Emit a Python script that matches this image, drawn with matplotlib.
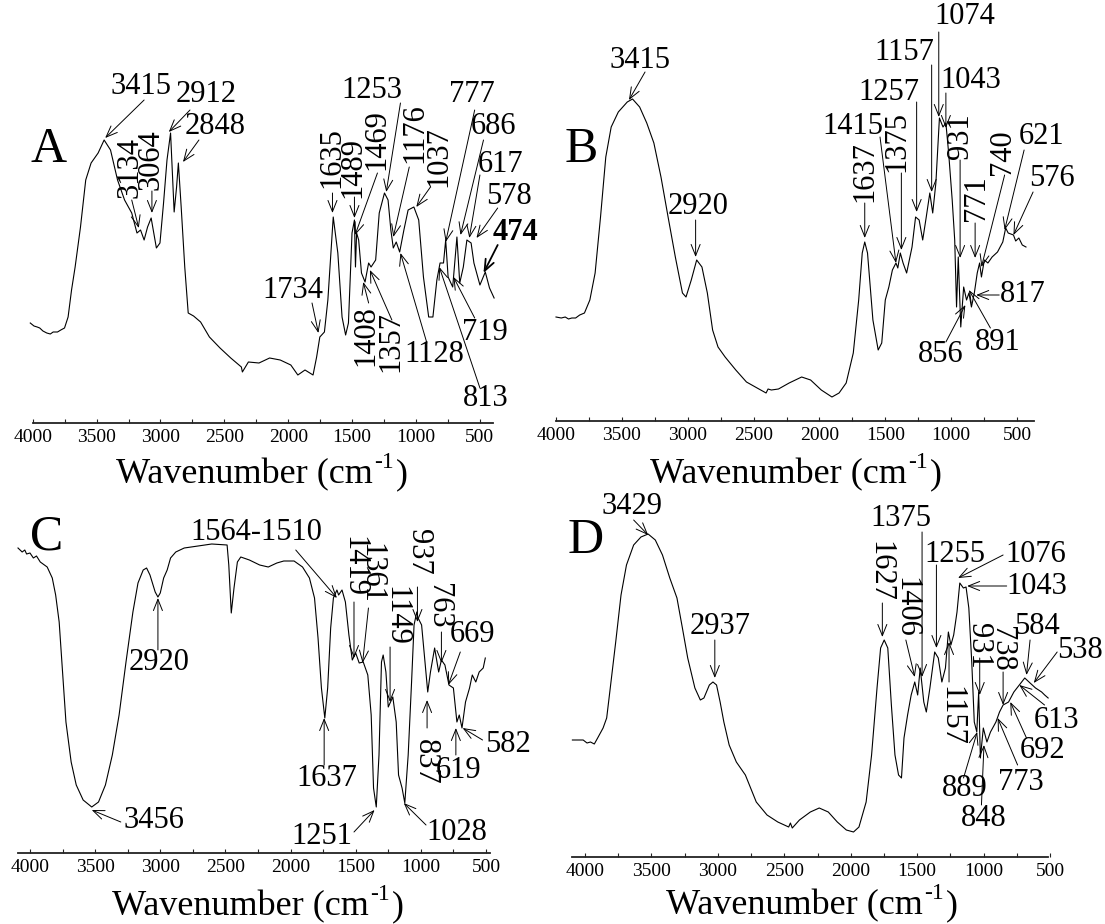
import matplotlib
matplotlib.use('Agg')
import matplotlib.pyplot as plt
from matplotlib.ticker import MultipleLocator, FixedLocator
from matplotlib.transforms import IdentityTransform

plt.rcParams['font.family'] = ['Liberation Serif', 'DejaVu Serif']

# ---------------- data: spectra (wavenumber, relative transmittance) ----------------
wn_A = [4019, 3990, 3965, 3945, 3920, 3890, 3862, 3840, 3806, 3780, 3751, 3723, 3696, 3668, 3626, 3585,
        3543, 3488, 3441, 3391, 3336, 3281, 3225, 3184, 3156, 3128, 3101, 3073, 3032, 3004, 2976, 2949,
        2921, 2893, 2874, 2860, 2838, 2810, 2783, 2741, 2686, 2617, 2534, 2450, 2367, 2359, 2312, 2229,
        2146, 2063, 1980, 1925, 1869, 1806, 1778, 1753, 1717, 1690, 1648, 1612, 1579, 1551, 1529, 1501,
        1482, 1474, 1465, 1449, 1427, 1399, 1371, 1352, 1316, 1288, 1247, 1219, 1197, 1178, 1155, 1128,
        1095, 1062, 1017, 979, 942, 901, 868, 837, 812, 785, 768, 749, 713, 680, 658, 630, 602, 569, 547,
        500, 458, 425, 389]
t_A = [100, 97, 96, 95, 92, 90, 89, 91, 91, 93, 95, 106, 133, 156, 196, 243,
       260, 270, 283, 273, 243, 223, 210, 190, 193, 183, 196, 205, 175, 180, 220, 263,
       290, 211, 236, 260, 216, 156, 110, 107, 101, 86, 75, 65, 56, 51, 61, 60,
       65, 63, 58, 48, 53, 48, 66, 86, 91, 123, 206, 170, 106, 88, 100, 190,
       203, 156, 190, 183, 150, 141, 160, 156, 163, 210, 230, 223, 193, 175, 181, 171,
       193, 213, 216, 203, 146, 106, 106, 143, 160, 160, 183, 146, 136, 186, 140, 156, 183, 180, 160,
       138, 151, 135, 125]

wn_B = [4000, 3960, 3930, 3905, 3880, 3851, 3820, 3784, 3743, 3703, 3662, 3622, 3581, 3527, 3459, 3419,
        3365, 3311, 3257, 3203, 3149, 3094, 3040, 3013, 2973, 2932, 2892, 2851, 2811, 2770, 2716, 2635,
        2554, 2473, 2405, 2390, 2365, 2311, 2230, 2135, 2067, 1986, 1905, 1851, 1797, 1743, 1702, 1675,
        1656, 1635, 1594, 1554, 1527, 1500, 1473, 1446, 1419, 1405, 1386, 1365, 1338, 1297, 1270, 1243,
        1216, 1189, 1162, 1140, 1116, 1089, 1062, 1040, 1019, 992, 973, 959, 946, 927, 905, 883, 865,
        846, 824, 802, 784, 770, 748, 721, 689, 648, 608, 586, 567, 527, 510, 486, 460, 432]
t_B = [104, 103, 104, 102, 103, 103, 106, 108, 121, 148, 204, 264, 294, 309, 319, 322,
       314, 298, 278, 244, 204, 164, 128, 124, 141, 161, 154, 128, 91, 74, 64, 51,
       39, 33, 28, 32, 31, 32, 38, 44, 41, 31, 24, 28, 38, 68, 121, 168,
       179, 168, 101, 71, 78, 121, 134, 151, 158, 153, 168, 158, 148, 174, 204, 201,
       181, 204, 228, 208, 238, 303, 294, 298, 268, 221, 181, 114, 164, 94, 134, 121, 128,
       114, 128, 148, 158, 144, 161, 158, 164, 169, 179, 193, 188, 186, 180, 183, 176, 174]

wn_C = [4092, 4060, 4040, 4026, 4000, 3974, 3950, 3921, 3868, 3829, 3803, 3776, 3750, 3724, 3684, 3645,
        3592, 3526, 3474, 3421, 3368, 3316, 3263, 3210, 3171, 3131, 3105, 3079, 3039, 3018, 3000, 2974,
        2947, 2921, 2881, 2816, 2710, 2605, 2487, 2474, 2455, 2434, 2408, 2382, 2316, 2237, 2171, 2105,
        2052, 1973, 1908, 1855, 1816, 1789, 1763, 1737, 1715, 1692, 1671, 1644, 1631, 1605, 1579, 1552,
        1526, 1500, 1473, 1442, 1407, 1381, 1363, 1342, 1321, 1302, 1289, 1268, 1250, 1215, 1189, 1171,
        1144, 1123, 1097, 1071, 1052, 1031, 1021, 994, 968, 947, 926, 894, 863, 842, 815, 784, 750, 723,
        705, 684, 657, 626, 605, 578, 552, 521, 505]
t_C = [305, 301, 303, 299, 300, 295, 297, 291, 286, 275, 258, 231, 181, 131, 91, 68,
       53, 46, 51, 68, 98, 138, 191, 241, 270, 283, 285, 278, 261, 256, 260, 275,
       283, 295, 301, 305, 307, 309, 308, 288, 240, 265, 291, 296, 293, 288, 286, 290,
       292, 292, 286, 275, 255, 215, 165, 135, 165, 225, 255, 263, 258, 263, 251, 218,
       193, 200, 190, 191, 178, 138, 65, 46, 98, 191, 198, 181, 146, 156, 131, 78,
       65, 50, 98, 171, 228, 241, 235, 228, 191, 161, 181, 205, 181, 193, 188, 168, 165, 131,
       138, 125, 151, 165, 178, 171, 181, 185, 195]

wn_D = [4095, 4050, 4014, 3985, 3959, 3930, 3905, 3864, 3837, 3810, 3769, 3729, 3688, 3634, 3579, 3525,
        3471, 3417, 3362, 3308, 3267, 3227, 3173, 3132, 3105, 3064, 3037, 3010, 2983, 2955, 2915, 2861,
        2793, 2711, 2630, 2549, 2467, 2454, 2440, 2386, 2304, 2237, 2169, 2101, 2033, 1979, 1938, 1884,
        1843, 1802, 1775, 1748, 1721, 1694, 1667, 1640, 1618, 1599, 1572, 1545, 1518, 1496, 1477, 1450,
        1431, 1404, 1368, 1341, 1314, 1287, 1265, 1246, 1225, 1200, 1179, 1152, 1132, 1111, 1089, 1070,
        1051, 1037, 1024, 1002, 975, 948, 907, 880, 853, 812, 772, 731, 690, 650, 609, 563, 540, 514]
t_D = [117, 117, 117, 114, 115, 113, 119, 129, 139, 169, 215, 262, 292, 312, 320, 323,
       317, 302, 279, 259, 229, 199, 169, 157, 159, 172, 175, 172, 155, 135, 112, 95,
       82, 55, 42, 35, 30, 34, 29, 37, 45, 49, 45, 35, 27, 25, 30, 55,
       102, 169, 209, 217, 209, 152, 102, 82, 79, 119, 142, 162, 175, 162, 189, 155,
       145, 169, 205, 199, 175, 189, 225, 212, 222, 245, 274, 269, 270, 249, 195, 135,
       125, 165, 99, 129, 115, 125, 135, 145, 152, 155, 165, 172, 179, 174, 169, 165, 162, 159]

# ---------------- peak labels ----------------
lab_A = ['3415', '3134', '3064', '2912', '2848', '1734', '1635', '1489', '1469', '1253', '1176', '1037',
         '777', '686', '617', '578', '474', '1408', '1357', '1128', '719', '813']
lab_B = ['3415', '2920', '1637', '1415', '1375', '1257', '1157', '1074', '1043', '931', '771', '740',
         '621', '576', '817', '891', '856']
lab_C = ['2920', '1564-1510', '1419', '1361', '1149', '937', '763', '669', '837', '619', '582', '1637',
         '3456', '1251', '1028']
lab_D = ['3429', '2937', '1627', '1406', '1375', '1255', '1076', '1043', '1157', '931', '738', '584',
         '538', '613', '692', '773', '889', '848']
panel_names = ['A', 'B', 'C', 'D']
tick_values = [4000, 3500, 3000, 2500, 2000, 1500, 1000, 500]
xlabel_parts = ['Wavenumber (cm', '-1', ')']

# ---------------- layout (label placement, arrows) ----------------
txt_A = [(3156, 336, 0), (3239, 256, 90), (3073, 263, 90), (2639, 329, 0), (2569, 296, 0), (1966, 132, 0),
         (1662, 265, 90), (1496, 256, 90), (1310, 283, 90), (1344, 332, 0), (1006, 290, 90), (823, 266, 90),
         (563, 328, 0), (397, 296, 0), (342, 258, 0), (273, 227, 0), (223, 191, 0), (1394, 87, 90),
         (1200, 81, 90), (859, 69, 0), (458, 91, 0), (458, 24, 0)]
arr_A = [((3128, 323), (3433, 285)), ((3225, 223), (3170, 195)), ((3067, 232), (3067, 210)),
         ((2769, 313), (2935, 291)), ((2699, 283), (2824, 261)), ((1814, 120), (1764, 90)),
         ((1654, 230), (1654, 210)), ((1482, 226), (1482, 205)), ((1302, 250), (1477, 188)),
         ((1122, 320), (1233, 231)), ((1053, 256), (1178, 186)), ((887, 236), (998, 216)),
         ((541, 313), (768, 181)), ((472, 283), (652, 188)), ((500, 248), (583, 185)),
         ((361, 215), (527, 185)), ((361, 178), (472, 150)), ((1371, 120), (1413, 141)),
         ((1189, 103), (1361, 153)), ((915, 80), (1122, 170)), ((541, 105), (707, 146)),
         ((500, 35), (818, 156))]

txt_B = [(3365, 360, 0), (2919, 214, 0), (1657, 249, 90), (1743, 295, 0), (1413, 279, 90), (1473, 329, 0),
         (1359, 369, 0), (900, 404, 0), (851, 340, 0), (932, 285, 90), (805, 223, 90), (608, 269, 90),
         (310, 284, 0), (237, 242, 0), (459, 126, 0), (643, 79, 0), (1076, 66, 0)]
arr_B = [((3324, 349), (3446, 321)), ((2940, 201), (2940, 164)), ((1656, 218), (1656, 183)),
         ((1540, 284), (1419, 158)), ((1378, 248), (1378, 171)), ((1262, 319), (1262, 209)),
         ((1148, 356), (1148, 229)), ((1094, 389), (1094, 304)), ((1040, 328), (1040, 293)),
         ((932, 261), (932, 163)), ((818, 198), (818, 163)), ((594, 246), (770, 154)),
         ((446, 271), (594, 191)), ((378, 229), (527, 186)), ((635, 126), (810, 126)),
         ((702, 93), (865, 131)), ((1040, 79), (892, 116))]

txt_C = [(3013, 191, 0), (2263, 321, 0), (1513, 286, -90), (1381, 280, -90), (1192, 237, -90),
         (1021, 301, -90), (868, 247, -90), (605, 219, 0), (968, 91, -90), (710, 83, 0), (328, 108, 0),
         (1723, 74, 0), (3052, 32, 0), (1763, 16, 0), (723, 21, 0)]
arr_C = [((3018, 203), (3018, 255)), ((1960, 303), (1644, 255)), ((1513, 251), (1513, 195)),
         ((1402, 245), (1447, 190)), ((1236, 206), (1236, 151)), ((1026, 266), (1026, 231)),
         ((842, 221), (842, 190)), ((697, 201), (789, 168)), ((952, 125), (952, 153)),
         ((731, 98), (731, 125)), ((526, 113), (679, 125)), ((1742, 88), (1742, 135)),
         ((3303, 31), (3526, 43)), ((1513, 21), (1355, 43)), ((960, 28), (1131, 50))]

txt_D = [(3647, 350, 0), (2983, 231, 0), (1783, 286, -90), (1585, 250, -90), (1626, 339, 0),
         (1219, 303, 0), (609, 303, 0), (603, 271, 0), (1246, 141, -90), (1037, 211, -90),
         (867, 208, -90), (595, 231, 0), (277, 206, 0), (454, 136, 0), (554, 106, 0), (717, 75, 0),
         (1142, 69, 0), (1002, 39, 0)]
arr_D = [((3634, 337), (3525, 322)), ((3023, 217), (3023, 179)), ((1762, 254), (1762, 220)),
         ((1585, 217), (1518, 180)), ((1463, 325), (1463, 180)), ((1355, 292), (1355, 209)),
         ((853, 302), (1192, 279)), ((826, 271), (1124, 271)), ((1260, 175), (1260, 215)),
         ((1029, 199), (1029, 162)), ((853, 185), (853, 152)), ((650, 217), (677, 182)),
         ((446, 205), (622, 174)), ((541, 152), (731, 172)), ((677, 119), (799, 155)),
         ((744, 92), (894, 139)), ((1151, 79), (1048, 125)), ((1016, 52), (997, 112))]

letter_pos = [(3872, 273), (3805, 271), (3876, 316), (3995, 316)]

W, H = 1105, 924
geom = [
    (32.7, 492.7, 423, (4000, 400), (400, 4000)),
    (556, 1034, 421, (4000, 371), (371, 4000)),
    (18, 490, 853, (4092, 469), (469, 4092)),
    (572, 1050, 857, (4098, 500), (515, 4098)),
]
xlabel_pos = [(262, 483), (796, 483), (258, 915), (812, 914)]

fig = plt.figure(figsize=(W / 100, H / 100), dpi=100)
renderer = fig.canvas.get_renderer()


def draw_xlabel(cx, baseline_from_top):
    y = H - baseline_from_top
    idt = IdentityTransform()
    t1 = fig.text(0, y, xlabel_parts[0], fontsize=26, va='baseline', ha='left', transform=idt)
    t2 = fig.text(0, y + 15, xlabel_parts[1], fontsize=17, va='baseline', ha='left', transform=idt)
    t3 = fig.text(0, y, xlabel_parts[2], fontsize=26, va='baseline', ha='left', transform=idt)
    w1 = t1.get_window_extent(renderer).width
    w2 = t2.get_window_extent(renderer).width
    w3 = t3.get_window_extent(renderer).width
    gap = 1.5
    total = w1 + w2 + w3 + 2 * gap
    x = cx - total / 2
    t1.set_x(x)
    t2.set_x(x + w1 + gap)
    t3.set_x(x + w1 + w2 + 2 * gap)


spectra = [(wn_A, t_A), (wn_B, t_B), (wn_C, t_C), (wn_D, t_D)]
labels = [lab_A, lab_B, lab_C, lab_D]
txts = [txt_A, txt_B, txt_C, txt_D]
arrs = [arr_A, arr_B, arr_C, arr_D]

AH = 400  # axes height in px
for i in range(4):
    x0, x1, yb, xl, bounds = geom[i]
    ax = fig.add_axes([x0 / W, (H - yb) / H, (x1 - x0) / W, AH / H])
    ax.set_facecolor('none')
    ax.set_xlim(*xl)
    ax.set_ylim(0, AH)
    for s in ['left', 'right', 'top']:
        ax.spines[s].set_visible(False)
    ax.spines['bottom'].set_linewidth(1.3)
    ax.spines['bottom'].set_color('#222222')
    ax.spines['bottom'].set_bounds(*bounds)
    ax.set_yticks([])
    ax.xaxis.set_major_locator(FixedLocator(tick_values))
    ax.xaxis.set_minor_locator(MultipleLocator(250))
    ax.tick_params(axis='x', which='both', direction='in', length=3, width=0.8, color='#222222')
    ax.tick_params(axis='x', which='major', labelsize=14, pad=4)
    ax.set_xticklabels([str(v) for v in tick_values])

    wn, tt = spectra[i]
    ax.plot(wn, tt, color='black', lw=0.8, clip_on=False)

    for lab, (tx, ty, rot), (st, tip) in zip(labels[i], txts[i], arrs[i]):
        weight = 'bold' if (i == 0 and lab == '474') else 'normal'
        ax.text(tx, ty, lab, fontsize=22, rotation=rot, ha='center', va='center',
                fontweight=weight, clip_on=False)
        ax.annotate('', xy=tip, xytext=st, annotation_clip=False,
                    arrowprops=dict(arrowstyle='->,head_length=0.45,head_width=0.18',
                                    lw=0.7 if weight == 'normal' else 1.3, color='black',
                                    shrinkA=0, shrinkB=0, mutation_scale=18))

    lx, ly = letter_pos[i]
    ax.text(lx, ly, panel_names[i], fontsize=36, ha='center', va='center', clip_on=False)

    fx, fy = xlabel_pos[i]
    draw_xlabel(fx, fy)

fig.savefig('out.png', dpi=100)
